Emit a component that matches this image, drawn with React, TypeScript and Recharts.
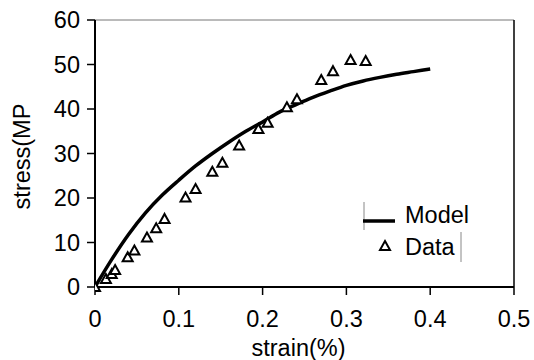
import {
  ComposedChart,
  Line,
  Scatter,
  XAxis,
  YAxis,
  ReferenceLine,
} from "recharts";

// model curve (strain %, stress MPa)
const modelStrain = [0, 0.02, 0.04, 0.06, 0.08, 0.1, 0.12, 0.14, 0.16, 0.18, 0.2, 0.22, 0.24, 0.26, 0.28, 0.3, 0.32, 0.34, 0.36, 0.38, 0.4];
const modelStress = [0, 6.2, 11.8, 16.6, 20.6, 24.0, 27.2, 30.0, 32.6, 35.0, 37.1, 39.3, 41.0, 42.6, 44.0, 45.3, 46.3, 47.1, 47.8, 48.4, 49.0];

// measured points
const dataStrain = [0, 0.013, 0.02, 0.024, 0.039, 0.047, 0.062, 0.073, 0.083, 0.108, 0.12, 0.14, 0.152, 0.172, 0.195, 0.206, 0.229, 0.241, 0.27, 0.284, 0.305, 0.323];
const dataStress = [0, 1.8, 2.9, 3.8, 6.7, 8.2, 11.1, 13.2, 15.3, 20.1, 22.0, 25.9, 27.9, 31.8, 35.5, 36.9, 40.4, 42.2, 46.5, 48.5, 51.0, 50.8];

const xTicks = [0, 0.1, 0.2, 0.3, 0.4, 0.5];
const yTicks = [0, 10, 20, 30, 40, 50, 60];

const modelData = modelStrain.map((x, i) => ({ x, y: modelStress[i] }));
const testData = dataStrain.map((x, i) => ({ x, y: dataStress[i] }));

const FONT = "'Liberation Sans', Arial, sans-serif";
const FS = 23.5;

const Triangle = ({ cx, cy }: any) => (
  <path
    d={`M${cx},${cy - 5} L${cx + 5},${cy + 4} L${cx - 5},${cy + 4} Z`}
    fill="#fff"
    stroke="#000"
    strokeWidth={2}
  />
);

// legend drawn as an overlay, like the boxed excel legend
const LegendBox = () => (
  <svg
    width={120}
    height={75}
    style={{ position: "absolute", left: 355, top: 195, fontFamily: FONT }}
  >
    <line x1={9} y1={7} x2={9} y2={35} stroke="#888" strokeWidth={1} />
    <line x1={8} y1={26} x2={40} y2={26} stroke="#000" strokeWidth={3.5} />
    <text x={50} y={28} fontSize={FS} fill="#000">Model</text>
    <Triangle cx={30} cy={51} />
    <text x={50} y={60} fontSize={FS} fill="#000">Data</text>
    <line x1={106} y1={37} x2={106} y2={67} stroke="#888" strokeWidth={1} />
  </svg>
);

const YLabel = ({ viewBox }: any) => {
  const x = viewBox.x + 22;
  const y = viewBox.y + viewBox.height / 2 + 3;
  return (
    <text x={x} y={y} transform={`rotate(-90 ${x} ${y})`} textAnchor="middle" dominantBaseline="central" fontSize={FS} fontFamily={FONT} fill="#000">
      stress(MP
    </text>
  );
};

const XLabel = ({ viewBox }: any) => {
  const x = viewBox.x + viewBox.width / 2 - 6;
  const y = viewBox.y + 61;
  return (
    <text x={x} y={y} textAnchor="middle" dominantBaseline="central" fontSize={FS} fontFamily={FONT} fill="#000">
      strain(%)
    </text>
  );
};

export default function App() {
  const tickStyle = { fill: "#000", fontSize: FS, fontFamily: FONT };
  return (
    <div style={{ position: "absolute", left: 0, top: 0, width: 534, height: 360, background: "#fff" }}>
      <ComposedChart width={534} height={360} margin={{ top: 20, right: 20, bottom: 0, left: 0 }}>
        <XAxis
          type="number"
          dataKey="x"
          domain={[0, 0.5]}
          ticks={xTicks}
          allowDataOverflow
          height={73}
          tickSize={8}
          tickMargin={15}
          axisLine={{ stroke: "#000", strokeWidth: 2 }}
          tickLine={{ stroke: "#000", strokeWidth: 1.5 }}
          tick={tickStyle}
          label={<XLabel />}
        />
        <YAxis
          type="number"
          dataKey="y"
          domain={[0, 60]}
          ticks={yTicks}
          width={95}
          tickSize={8}
          tickMargin={7}
          axisLine={{ stroke: "#000", strokeWidth: 2 }}
          tickLine={{ stroke: "#000", strokeWidth: 1.5 }}
          tick={tickStyle}
          label={<YLabel />}
        />
        <ReferenceLine y={60} stroke="#777" strokeWidth={1} />
        <ReferenceLine x={0.5} stroke="#000" strokeWidth={1.5} />
        <Line
          data={modelData}
          dataKey="y"
          name="Model"
          type="monotone"
          stroke="#000"
          strokeWidth={3.5}
          dot={false}
          activeDot={false}
          isAnimationActive={false}
        />
        <Scatter
          data={testData}
          dataKey="y"
          name="Data"
          shape={<Triangle />}
          isAnimationActive={false}
        />
      </ComposedChart>
      <LegendBox />
    </div>
  );
}
